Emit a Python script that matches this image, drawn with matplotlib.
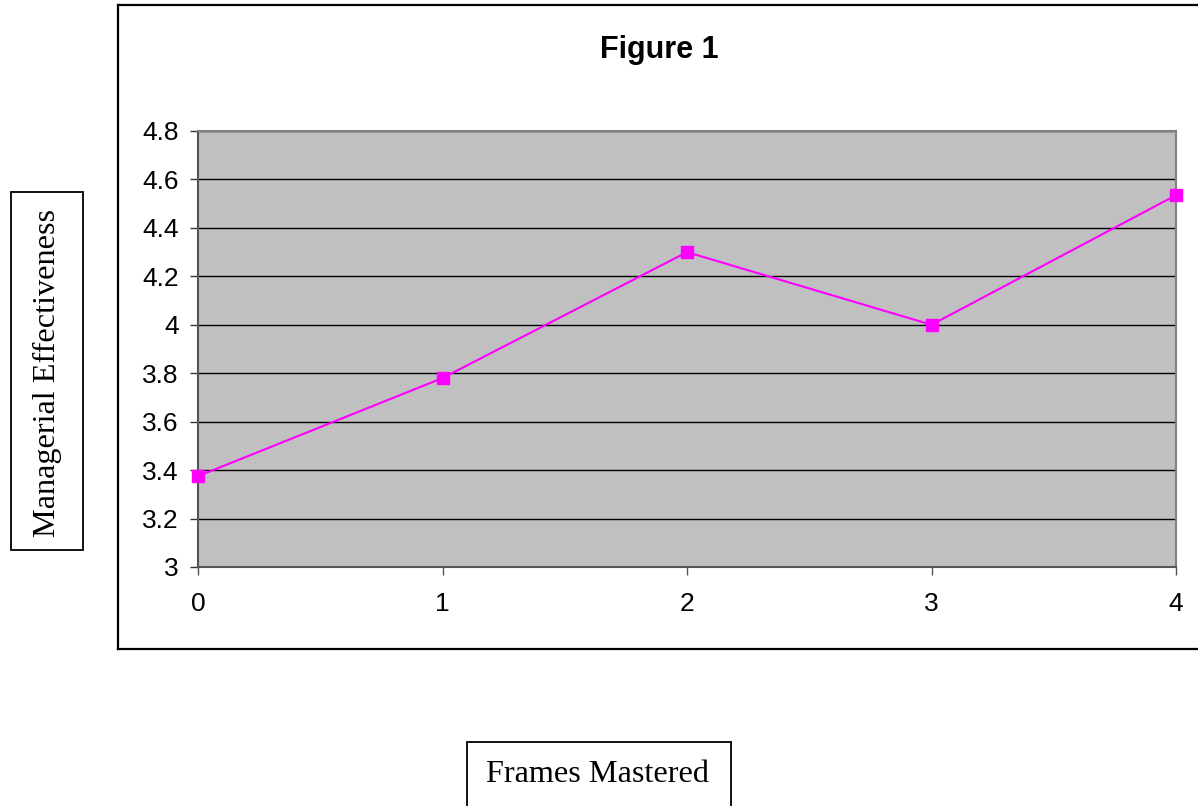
import matplotlib
matplotlib.use("Agg")
import matplotlib.pyplot as plt
from matplotlib.patches import Rectangle
from matplotlib.lines import Line2D

# Data
frames = [0, 1, 2, 3, 4]
effectiveness = [3.375, 3.78, 4.30, 4.00, 4.535]
y_ticks = [3, 3.2, 3.4, 3.6, 3.8, 4, 4.2, 4.4, 4.6, 4.8]
y_tick_labels = ["3", "3.2", "3.4", "3.6", "3.8", "4", "4.2", "4.4", "4.6", "4.8"]
title = "Figure 1"
x_label = "Frames Mastered"
y_label = "Managerial Effectiveness"

W, H = 1198, 806
fig = plt.figure(figsize=(W / 100, H / 100), dpi=100)
fig.patch.set_facecolor("white")

def fx(px):
    return px / W

def fy(py):
    return 1 - py / H

# Outer chart border (right edge runs off the image)
for (x0, y0, x1, y1) in [(118, 5, 1210, 5), (118, 5, 118, 649), (118, 649, 1210, 649)]:
    fig.add_artist(Line2D([fx(x0), fx(x1)], [fy(y0), fy(y1)], transform=fig.transFigure,
                          color="black", linewidth=1.6, solid_capstyle="projecting"))

# Plot area
ax = fig.add_axes([fx(198), fy(567), fx(1176) - fx(198), fy(131) - fy(567)])
ax.set_facecolor("#C0C0C0")
ax.plot(frames, effectiveness, color="#FF00FF", linewidth=1.5, marker="s",
        markersize=8.5, markerfacecolor="#FF00FF", markeredgecolor="#FF00FF",
        clip_on=False, zorder=5)
ax.set_xlim(0, 4)
ax.set_ylim(3, 4.8)
ax.set_yticks(y_ticks)
ax.set_yticklabels(y_tick_labels)
ax.set_xticks(frames)
ax.set_xticklabels([str(f) for f in frames])
ax.yaxis.grid(True, color="black", linewidth=1.0)
ax.set_axisbelow(True)
for s in ["top", "right"]:
    ax.spines[s].set_color("#808080")
    ax.spines[s].set_linewidth(1.5)
for s in ["left", "bottom"]:
    ax.spines[s].set_color("#555555")
    ax.spines[s].set_linewidth(1.5)
ax.tick_params(axis="y", direction="out", length=6, width=1, color="#333333", pad=8,
               labelsize=19)
ax.tick_params(axis="x", direction="out", length=6, width=1, color="#555555", pad=12,
               labelsize=19)
for lab in ax.get_xticklabels() + ax.get_yticklabels():
    lab.set_fontfamily("Liberation Sans")

# Title
fig.text(fx(659), fy(50), title, ha="center", va="center", fontsize=22,
         fontweight="bold", family="Liberation Sans")

# Y label box
fig.add_artist(Rectangle((fx(11), fy(550)), fx(83) - fx(11), fy(192) - fy(550),
                         transform=fig.transFigure, fill=False, edgecolor="black",
                         linewidth=1.3))
fig.text(fx(47), fy(373), y_label, rotation=90, ha="center", va="center",
         fontsize=23.2, family="Liberation Serif")

# X label box
fig.add_artist(Rectangle((fx(467), fy(810)), fx(731) - fx(467), fy(742) - fy(810),
                         transform=fig.transFigure, fill=False, edgecolor="black",
                         linewidth=1.3, clip_on=False))
fig.text(fx(598), fy(775), x_label, ha="center", va="center",
         fontsize=23.2, family="Liberation Serif")

fig.savefig("out.png", dpi=100, facecolor="white")
